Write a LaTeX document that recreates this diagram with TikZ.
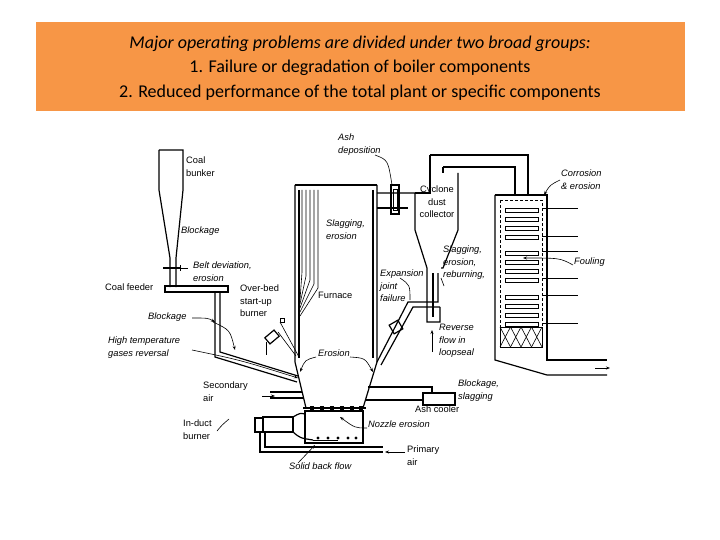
\documentclass[tikz,border=0pt]{standalone}
\usepackage{fontspec}
\setmainfont{Carlito}
\newfontfamily\lab{Liberation Sans}
\usetikzlibrary{arrows.meta,patterns}
\definecolor{org}{HTML}{F79646}
\begin{document}
\begin{tikzpicture}[x=1pt,y=-1pt,
  t/.style={font=\lab\fontsize{9.3}{12.5}\selectfont,inner sep=0,anchor=north west,align=left},
  ti/.style={t,font=\lab\itshape\fontsize{9.3}{12.5}\selectfont},
  w/.style={line width=1.2pt},
  ln/.style={line width=0.6pt},
  ar/.style={ln,-{Stealth[length=4pt,width=3pt]}}]
\useasboundingbox (0,0) rectangle (720,540);
\fill[org] (36,22) rectangle (685,111);
\node[font=\fontsize{18}{24.5}\selectfont,align=center] (title) at (360,68) {\textit{Major operating problems are divided under two broad groups:}\\1. Failure or degradation of boiler components\\2. Reduced performance of the total plant or specific components};
% coal bunker
\draw[w] (159,150) -- (183,150) -- (183,190) -- (176,258) -- (176,287);
\draw[w] (159,150) -- (159,190) -- (170,258) -- (170,287);
\draw[line width=2.2pt] (163,268) -- (180,268);
\draw[ln] (180,265)--(180,271); \draw[ln] (180,268)--(188,268);
\draw[w] (165,286) rectangle (228,292);
\draw[w] (215,292) -- (215,357) -- (297,382);
\draw[w] (220,292) -- (220,352) -- (298,376);
% furnace
\draw[w] (295,185) -- (377,185);
\draw[w] (295,185) -- (295,362) -- (306,408);
\draw[w] (299,190) -- (299,358);
\draw[w] (377,185) -- (377,362) -- (363,408);
\draw[w] (373,190) -- (373,358);
\foreach \i in {0,...,4}{\draw[ln] (302+4*\i,190) -- (302+4*\i,272+4*\i) -- (300,300+4*\i);}
\draw[w] (303,408) -- (366,408);
\foreach \x in {312,322,332,342,352,361}{\fill (\x-1.8,406) rectangle (\x+1.8,410);}
\draw[w] (305,411) rectangle (363,443);
\foreach \x in {318,328,338,348,356}{\fill (\x,438) circle (1.6);}
\draw[ln] (313,440) -- (338,440);
% in-duct burner
\draw[w] (263,417) rectangle (293,432);
\draw[w] (255,418) rectangle (263,432);
\draw[w] (293,417) .. controls (300,413) .. (305,414);
\draw[w] (293,432) .. controls (300,438) .. (313,440);
\draw[w] (260,432) -- (260,452) -- (383,452);
\draw[w] (265,432) -- (265,447) -- (383,447);
\draw[ar] (405,452) -- (385,452);
% secondary air
\draw[w] (270,392) -- (302,392); \draw[w] (270,398) -- (304,398);
\draw[ar] (262,396) -- (275,396);
% overbed burner
\draw[w,rotate around={40:(272,337)}] (266,333) rectangle (278,341);
\draw[ln] (266,342) -- (266,355); \draw[ln] (278,332) -- (296,356);
\draw[ln] (280,322) -- (299,357); \draw[ln] (280,318) rectangle (284,322);
% ash cooler
\draw[w] (368,387) -- (432,387) -- (432,393); \draw[w] (366,400) -- (423,400);
\draw[w] (423,393) rectangle (455,405);
% duct to cyclone
\draw[w] (377,193) -- (415,193) -- (415,230) -- (427,268) -- (427,322) -- (440,322) -- (440,307);
\draw[w] (377,208) -- (408,208);
\draw[w] (391,185) rectangle (399,214); \draw[ln] (393,189) rectangle (397,210);
\draw[w] (430,155) -- (528,155) -- (528,195);
\draw[w] (430,155) -- (430,193) -- (415,193);
\draw[w] (443,167) -- (515,167) -- (515,195);
\draw[w] (443,167) -- (443,173); \draw[w] (458,173) -- (458,230) -- (443,268) -- (441,268);
\draw[w] (433,273) -- (433,317) ;
\draw[w] (438,273) -- (438,302) -- (408,302) -- (377,362);
\draw[w] (440,307) -- (413,307) -- (381,365);
\draw[w,rotate around={-60:(396,327)}] (391,322) rectangle (401,332);
% back pass
\draw[w] (495,195) -- (547,195) -- (547,360) -- (607,360);
\draw[w] (495,195) -- (495,360) -- (547,375) -- (607,375);
\draw[ar] (595,368) -- (610,368);
\draw[ln,densely dashed] (500,200) rectangle (542,327);
\foreach \y in {208,251,295}{\foreach \k in {0,1,2,3}{\draw[ln] (505,\y+\k*9) rectangle (538,\y+\k*9+4);}}
\foreach \y in {208,236,251,278,295,323}{\draw[ln] (542,\y) -- (578,\y);}
\draw[ln] (500,327) rectangle (542,347);
\foreach \i in {0,1,2,3}{\draw[ln] (500+10.5*\i,327) -- (510.5+10.5*\i,347) (510.5+10.5*\i,327) -- (500+10.5*\i,347);}
% labels
\node[ti] (l1) at (338,134) {Ash\\deposition};
\node[t] (l2) at (186,157) {Coal\\bunker};
\node[ti] (l3) at (181,227) {Blockage};
\node[ti] (l4) at (193,262) {Belt deviation,\\erosion};
\node[t] (l5) at (105,284) {Coal feeder};
\node[t] (l6) at (240,285) {Over-bed\\start-up\\burner};
\node[ti] (l7) at (326,220) {Slagging,\\erosion};
\node[t] (l8) at (318,292) {Furnace};
\node[ti] (l9) at (380,270) {Expansion\\joint\\failure};
\node[t,align=center,anchor=north] (l10) at (437,186) {Cyclone\\dust\\collector};
\node[ti] (l11) at (443,246) {Slagging,\\erosion,\\reburning,};
\node[ti] (l12) at (561,170) {Corrosion\\\& erosion};
\node[ti] (l13) at (574,258) {Fouling};
\node[ti] (l14) at (439,324) {Reverse\\flow in\\loopseal};
\node[ti] (l15) at (148,313) {Blockage};
\node[ti] (l16) at (108,337) {High temperature\\gases reversal};
\node[ti] (l17) at (318,350) {Erosion};
\node[t] (l18) at (203,382) {Secondary\\air};
\node[ti] (l19) at (458,380) {Blockage,\\slagging};
\node[t] (l20) at (415,406) {Ash cooler};
\node[t] (l21) at (183,420) {In-duct\\burner};
\node[ti] (l22) at (368,421) {Nozzle erosion};
\node[t] (l23) at (407,446) {Primary\\air};
\node[ti] (l24) at (289,463) {Solid back flow};
% leader lines
\draw[ln] (375,155) .. controls (388,160) .. (392,185);
\draw[ar] (192,318) .. controls (208,318) .. (215,322);
\draw[ar] (213,322) .. controls (230,330) .. (235,350);
\draw[ar] (192,350) .. controls (240,360) .. (298,378);
\draw[ar] (316,357) .. controls (305,360) .. (300,372);
\draw[ar] (350,357) .. controls (365,358) .. (373,372);
\draw[ar] (367,428) .. controls (355,428) .. (340,417);
\draw[ar] (298,463) .. controls (306,455) .. (315,445);
\draw[ln] (217,431) .. controls (222,425) .. (229,419);
\draw[ln] (400,278) .. controls (410,285) .. (410,300);
\draw[ln] (444,286) -- (441,278);
\draw[ar] (560,180) .. controls (550,185) .. (544,195);
\draw[ar] (573,265) .. controls (560,258) .. (523,258);
\draw[ar] (432,352) -- (432,330);
\end{tikzpicture}
\end{document}
